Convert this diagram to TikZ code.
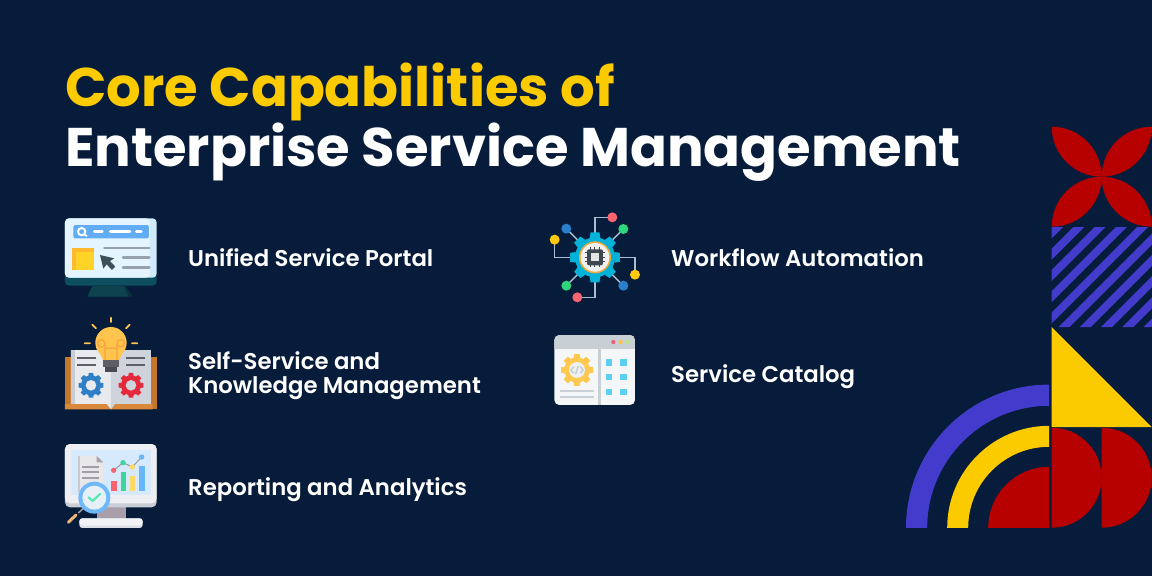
\documentclass[tikz,border=0pt]{standalone}
\usepackage{fontspec}
\setmainfont{Poppins}
\newfontfamily\semibold{Poppins SemiBold}
\definecolor{bgc}{HTML}{071C3A}
\definecolor{redc}{HTML}{B70000}
\definecolor{bluec}{HTML}{433BCB}
\definecolor{yelc}{HTML}{FBCB00}
\definecolor{conn}{HTML}{A9BFD0}
\tikzset{
  titletext/.style={anchor=base west,inner sep=0pt,font=\bfseries\fontsize{54.4}{58}\selectfont},
  itemtext/.style={anchor=base west,inner sep=0pt,text=white,align=left,font=\semibold\fontsize{22.8}{24}\selectfont},
  icon/.style={x=0.3333pt,y=-0.3333pt},
}
\newcommand{\mygear}[6]{% x y body-r tooth-r teeth colour
  \fill[#6] (#1,#2) circle (#3);
  \foreach \k in {1,...,#5}{
    \pgfmathsetmacro{\ang}{\k*360/#5}
    \fill[#6,shift={(#1,#2)},rotate=\ang] (#3-2,-#3*0.27) -- (#4,-#3*0.22) -- (#4,#3*0.22) -- (#3-2,#3*0.27) -- cycle;
  }
}
\begin{document}
\begin{tikzpicture}[x=1pt,y=-1pt]
\useasboundingbox (0,0) rectangle (1152,576);
\fill[bgc] (0,0) rectangle (1152,576);

% titles
\node[titletext,text=yelc] (t1) at (65,106) {Core Capabilities of};
\node[titletext,text=white] (t2) at (65,166) {Enterprise Service Management};

% items
\node[itemtext] (a) at (188,266) {Unified Service Portal};
\node[itemtext,anchor=west] (b) at (188,376) {Self-Service and\\Knowledge Management};
\node[itemtext] (c) at (188,495) {Reporting and Analytics};
\node[itemtext] (d) at (671,266) {Workflow Automation};
\node[itemtext] (e) at (671,382) {Service Catalog};

% decoration: petals
\fill[redc] (1051.7,126.7) arc[start angle=-90,end angle=0,radius=50] arc[start angle=90,end angle=180,radius=50] -- cycle;
\fill[redc] (1151.7,126.7) arc[start angle=-90,end angle=-180,radius=50] arc[start angle=90,end angle=0,radius=50] -- cycle;
\fill[redc] (1051.7,226.7) arc[start angle=90,end angle=0,radius=50] arc[start angle=-90,end angle=-180,radius=50] -- cycle;
\fill[redc] (1151.7,226.7) arc[start angle=90,end angle=180,radius=50] arc[start angle=-90,end angle=0,radius=50] -- cycle;
% stripes
\begin{scope}
\clip (1051.7,227) rectangle (1152,327);
\foreach \k in {-1,...,9}{
  \pgfmathsetmacro{\sa}{1300.3+21.3*\k}
  \pgfmathsetmacro{\sb}{1311.3+21.3*\k}
  \fill[bluec] (\sa-227,227) -- (\sb-227,227) -- (\sb-327,327) -- (\sa-327,327) -- cycle;
}
\end{scope}
% triangle
\fill[yelc] (1051.7,327) -- (1051.7,427) -- (1151.7,427) -- cycle;
% half discs
\fill[redc] (1051.7,427.7) arc[start angle=-90,end angle=90,radius=50] -- cycle;
\fill[redc] (1101.7,427.7) arc[start angle=-90,end angle=90,radius=50] -- cycle;
% rings
\fill[bluec] (906,527.8) arc[start angle=180,end angle=270,radius=143.2] -- (1049.2,405.8) arc[start angle=270,end angle=180,radius=122] -- cycle;
\fill[yelc] (947.2,527.8) arc[start angle=180,end angle=270,radius=102] -- (1049.2,446.8) arc[start angle=270,end angle=180,radius=81] -- cycle;
\fill[redc] (988.2,527.8) arc[start angle=180,end angle=270,radius=61] -- (1049.2,527.8) -- cycle;

% icon 1
\begin{scope}[shift={(50,205)},icon]
\fill[color={rgb,255:red,13;green,79;blue,94},rounded corners=4pt] (45,200) rectangle (320,242);
\fill[color={rgb,255:red,10;green,48;blue,62}] (128,242) -- (112,275) -- (250,275) -- (225,242) -- cycle;
\fill[color={rgb,255:red,14;green,66;blue,78}] (128,242) -- (112,275) -- (235,275) -- (222,242) -- cycle;
\fill[color={rgb,255:red,207;green,234;blue,251},rounded corners=4pt] (45,40) rectangle (320,218);
\fill[color={rgb,255:red,229;green,245;blue,255},rounded corners=4pt] (45,40) -- (300,40) -- (300,218) -- (45,218) -- cycle;
\fill[color={rgb,255:red,98;green,172;blue,244},rounded corners=1.5pt] (70,60) rectangle (297,100);
\draw[white,line width=2pt] (95,80) circle (11);
\draw[white,line width=1.7pt,line cap=round] (103,88) -- (110,93);
\draw[white,line width=2.6pt,line cap=round] (133,80) -- (157,80) (181,80) -- (240,80) (259,80) -- (274,80);
\fill[color={rgb,255:red,255;green,185;blue,45}] (66,130) rectangle (132,196);
\fill[color={rgb,255:red,255;green,212;blue,38}] (78,142) rectangle (132,196);
\draw[color={rgb,255:red,149;green,160;blue,170},line width=2.5pt,line cap=round] (163,129) -- (298,129) (219,158) -- (298,158) (219,188) -- (298,188);
\fill[color={rgb,255:red,60;green,80;blue,88}] (150,150) -- (193,160) -- (180,168) -- (196,185) -- (186,195) -- (170,178) -- (160,191) -- cycle;
\end{scope}

% icon 2
\begin{scope}[shift={(50,310)},icon]
\fill[color={rgb,255:red,196;green,118;blue,42}] (45,140) rectangle (320,298);
\fill[color={rgb,255:red,217;green,137;blue,60}] (57,282) -- (308,282) -- (308,298) -- (45,298) -- (45,282) -- cycle;
\fill[color={rgb,255:red,232;green,234;blue,238}] (63,120) -- (183,120) -- (183,298) -- (170,282) -- (63,282) -- cycle;
\fill[color={rgb,255:red,207;green,212;blue,220}] (183,120) -- (303,120) -- (303,282) -- (195,282) -- (183,298) -- cycle;
\fill[color={rgb,255:red,200;green,205;blue,213}] (63,120) rectangle (76,282);
\draw[color={rgb,255:red,94;green,96;blue,104},line width=1.7pt] (82,145) -- (138,145) (82,165) -- (138,165) (228,145) -- (285,145) (228,165) -- (285,165);
\mygear{123}{226}{30}{37}{8}{color={rgb,255:red,47;green,127;blue,198}}
\fill[color={rgb,255:red,232;green,234;blue,238}] (123,226) circle (16);
\mygear{243}{226}{30}{37}{8}{color={rgb,255:red,227;green,41;blue,58}}
\fill[color={rgb,255:red,207;green,212;blue,220}] (243,226) circle (16);
\fill[color={rgb,255:red,255;green,196;blue,77}] (183,98) circle (47);
\fill[color={rgb,255:red,255;green,196;blue,77}] (150,130) -- (216,130) -- (207,152) -- (160,152) -- cycle;
\draw[color={rgb,255:red,245;green,166;blue,60},line width=1.3pt] (165,150) -- (165,100) arc[start angle=0,end angle=-360,radius=11] (201,150) -- (201,100) arc[start angle=180,end angle=540,radius=11] (165,115) -- (201,115);
\fill[color={rgb,255:red,94;green,95;blue,102}] (160,150) rectangle (207,172);
\fill[color={rgb,255:red,74;green,75;blue,82}] (166,172) rectangle (200,187);
\draw[color={rgb,255:red,255;green,196;blue,77},line width=1.8pt,line cap=round] (183,23) -- (183,36) (127,44) -- (138,55) (239,44) -- (228,55) (104,100) -- (120,100) (246,100) -- (262,100);
\end{scope}

% icon 3
\begin{scope}[shift={(50,435)},icon]
\fill[color={rgb,255:red,168;green,159;blue,171}] (140,210) rectangle (228,252);
\fill[color={rgb,255:red,201;green,205;blue,214},rounded corners=5pt] (45,27) rectangle (320,217);
\fill[color={rgb,255:red,237;green,239;blue,242},rounded corners=5pt] (45,27) rectangle (320,205);
\fill[color={rgb,255:red,214;green,233;blue,253}] (63,45) rectangle (303,180);
\fill[color={rgb,255:red,220;green,224;blue,230},rounded corners=3pt] (88,250) rectangle (278,279);
\fill[color={rgb,255:red,240;green,242;blue,245},rounded corners=3pt] (88,250) rectangle (278,272);
\fill[color={rgb,255:red,232;green,232;blue,234}] (83,63) -- (140,63) -- (160,82) -- (160,170) -- (83,170) -- cycle;
\fill[color={rgb,255:red,200;green,200;blue,205}] (83,63) rectangle (90,170);
\fill[color={rgb,255:red,168;green,159;blue,171}] (140,63) -- (160,82) -- (140,82) -- cycle;
\draw[color={rgb,255:red,165;green,157;blue,166},line width=2pt] (95,95) -- (147,95) (95,112) -- (147,112) (95,128) -- (147,128);
\fill[color={rgb,255:red,249;green,101;blue,111}] (183,138) rectangle (200,168);
\fill[color={rgb,255:red,63;green,212;blue,155}] (212,112) rectangle (228,168);
\fill[color={rgb,255:red,255;green,217;blue,102}] (240,123) rectangle (256,168);
\fill[color={rgb,255:red,103;green,181;blue,251}] (267,92) rectangle (284,168);
\draw[color={rgb,255:red,158;green,150;blue,160},line width=1pt] (191,106) -- (219,83) -- (247,96) -- (275,66);
\fill[color={rgb,255:red,249;green,101;blue,111}] (191,106) circle (8);
\fill[color={rgb,255:red,63;green,212;blue,155}] (219,83) circle (8);
\fill[color={rgb,255:red,255;green,217;blue,102}] (247,96) circle (8);
\fill[color={rgb,255:red,103;green,181;blue,251}] (275,66) circle (8);
\draw[color={rgb,255:red,150;green,150;blue,155},line width=1.6pt] (100,220) -- (85,234);
\draw[color={rgb,255:red,240;green,182;blue,118},line width=3pt,line cap=round] (78,240) -- (55,262);
\fill[color={rgb,255:red,111;green,185;blue,251}] (133,188) circle (48);
\fill[color={rgb,255:red,230;green,240;blue,246}] (133,188) circle (36);
\draw[color={rgb,255:red,92;green,230;blue,176},line width=2.2pt,line cap=round,line join=round] (116,187) -- (128,198) -- (150,177);
\end{scope}

% icon 4
\begin{scope}[shift={(540,205)},icon]
\coordinate (hub) at (165,157);
\coordinate (n1) at (217,37);
\coordinate (n2) at (250,72);
\coordinate (n3) at (79,71);
\coordinate (n4) at (44,104);
\coordinate (n5) at (285,209);
\coordinate (n6) at (250,242);
\coordinate (n7) at (79,242);
\coordinate (n8) at (112,277);
\draw[conn,line width=1.4pt] (hub) -- (165,37) -- (n1);
\draw[conn,line width=1.4pt] (hub) -- (n2);
\draw[conn,line width=1.4pt] (hub) -- (n3);
\draw[conn,line width=1.4pt] (hub) -- (44,157) -- (n4);
\draw[conn,line width=1.4pt] (hub) -- (285,157) -- (n5);
\draw[conn,line width=1.4pt] (hub) -- (n6);
\draw[conn,line width=1.4pt] (hub) -- (n7);
\draw[conn,line width=1.4pt] (hub) -- (165,277) -- (n8);
\fill[color={rgb,255:red,249;green,101;blue,111}] (n1) circle (15) (n8) circle (15);
\fill[color={rgb,255:red,47;green,213;blue,123}] (n2) circle (15) (n7) circle (15);
\fill[color={rgb,255:red,42;green,127;blue,204}] (n3) circle (15) (n6) circle (15);
\fill[color={rgb,255:red,255;green,201;blue,14}] (n4) circle (15) (n5) circle (15);
\mygear{165}{157}{60}{75}{8}{color={rgb,255:red,2;green,178;blue,216}}
\fill[color={rgb,255:red,243;green,169;blue,59}] (hub) circle (48);
\fill[color={rgb,255:red,240;green,240;blue,240}] (hub) circle (43);
\foreach \d in {-14,0,14}{
  \draw[color={rgb,255:red,63;green,70;blue,80},line width=1pt] (165+\d,127) -- (165+\d,187) (135,157+\d) -- (195,157+\d);
}
\fill[color={rgb,255:red,63;green,70;blue,80},rounded corners=2pt] (141,133) rectangle (189,181);
\fill[color={rgb,255:red,227;green,229;blue,229}] (153,145) rectangle (177,169);
\end{scope}

% icon 5
\begin{scope}[shift={(545,325)},icon]
\fill[color={rgb,255:red,244;green,246;blue,248},rounded corners=5pt] (28,30) rectangle (270,240);
\begin{scope}
\clip[rounded corners=5pt] (28,30) rectangle (270,240);
\fill[color={rgb,255:red,200;green,208;blue,214}] (28,30) rectangle (270,72);
\end{scope}
\fill[color={rgb,255:red,240;green,96;blue,122}] (205,51) circle (6.5);
\fill[color={rgb,255:red,255;green,194;blue,74}] (227,51) circle (6.5);
\fill[color={rgb,255:red,184;green,233;blue,134}] (249,51) circle (6.5);
\fill[color={rgb,255:red,200;green,208;blue,214}] (160,72) rectangle (167,240);
\mygear{96}{135}{38}{48}{8}{color={rgb,255:red,255;green,200;blue,78}}
\fill[color={rgb,255:red,238;green,240;blue,242}] (96,135) circle (24);
\draw[color={rgb,255:red,200;green,208;blue,214},line width=1.5pt] (86,125) -- (78,135) -- (86,145) (106,125) -- (114,135) -- (106,145) (100,123) -- (92,147);
\draw[color={rgb,255:red,200;green,208;blue,214},line width=1.7pt] (45,199) -- (147,199) (45,217) -- (147,217);
\foreach \cx in {183,226}{
  \foreach \cy in {103,147,191}{
    \fill[color={rgb,255:red,93;green,208;blue,242}] (\cx,\cy) rectangle ++(19,19);
  }
}
\end{scope}
\end{tikzpicture}
\end{document}
